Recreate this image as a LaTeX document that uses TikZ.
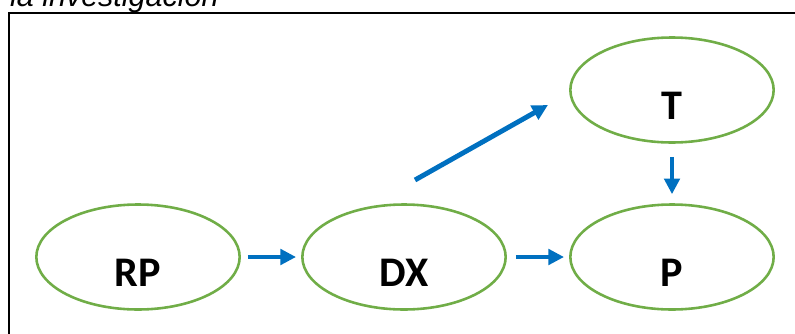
\documentclass[tikz,border=0pt]{standalone}
\usepackage{fontspec}
\setmainfont{Carlito}
\newfontfamily\capfont{Liberation Sans}
\usetikzlibrary{arrows.meta, shapes.geometric}
\definecolor{leafgreen}{HTML}{70AD47}
\definecolor{flowblue}{HTML}{0070C0}

\begin{document}
\begin{tikzpicture}
	[%
	x=0.03cm, y=-0.03cm,%
	stage/.style={ellipse,	draw=leafgreen,	line width=2.2pt,	inner sep=0pt,	minimum width=6.1cm,	minimum height=3.15cm,	text height=1.74cm,	text depth=0pt,	font=\fontsize{36}{40}\selectfont\bfseries},%
	flow/.style ={-{Triangle[length=0.47cm,width=0.46cm]},	draw=flowblue,	line width=4.2pt},%
	]

	% canvas
	\useasboundingbox (0,0) rectangle (795,333);
	\clip (0,0) rectangle (795,333);

	% caption and frame
	\node (caption) at (10,6) [anchor=base west, inner sep=0pt, font=\capfont\itshape\fontsize{26}{30}\selectfont] {la investigación};
	\draw [line width=1.7pt] (9,13) rectangle (830,360);

	% nodes
	\node (rp) at (138,257) [stage] {RP};
	\node (dx) at (404,257) [stage] {DX};
	\node (t)  at (672, 90) [stage] {T};
	\node (p)  at (672,257) [stage] {P};

	\coordinate (dxup)  at (415,180);
	\coordinate (tleft) at (548,105);

	% interconnections
	\draw [flow, shorten <=0.21cm, shorten >=0.15cm] (rp) -- (dx);
	\draw [flow, shorten <=0.27cm, shorten >=0.15cm] (dx) -- (p);
	\draw [flow, shorten <=0.39cm, shorten >=0.27cm] (t) -- (p);
	\draw [flow] (dxup) -- (tleft);

\end{tikzpicture}
\end{document}
